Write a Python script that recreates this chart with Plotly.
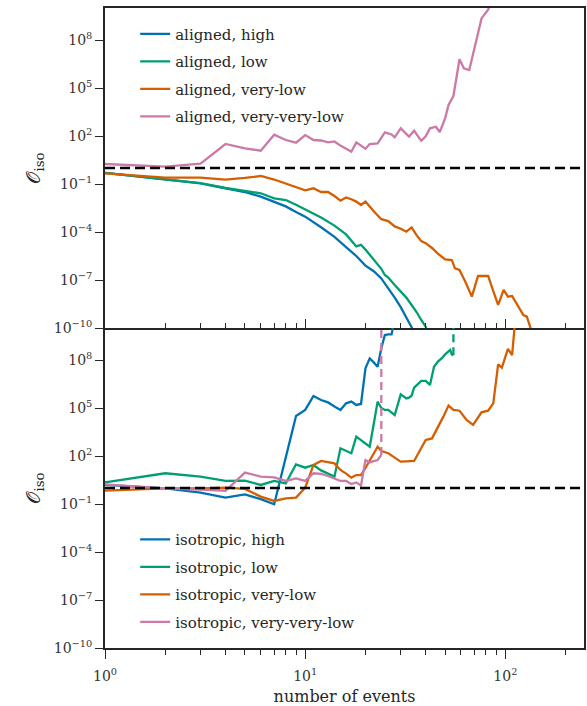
import plotly.graph_objects as go
from plotly.subplots import make_subplots

# ---------------- data (values read as log10 of O_iso) ----------------
al_high_n = [1, 2, 3, 4, 5, 6, 7, 8, 9, 10, 12, 14, 16, 18, 20, 22, 24, 26, 28, 30, 32, 34, 35]
al_high_log = [-0.3, -0.71, -0.96, -1.27, -1.5, -1.79, -2.1, -2.4, -2.75, -3.04, -3.7, -4.3,
               -4.95, -5.5, -6.1, -6.45, -6.9, -7.5, -8.1, -8.7, -9.3, -9.95, -10.3]

al_low_n = [1, 2, 3, 4, 5, 6, 7, 8, 9, 10, 12, 14, 16, 18, 19, 20, 22, 24, 25, 26, 28, 30,
            32, 34, 36, 38, 40, 41]
al_low_log = [-0.3, -0.71, -0.95, -1.25, -1.45, -1.58, -1.9, -2.0, -2.3, -2.58, -3.1, -3.6,
              -4.15, -4.9, -4.8, -5.1, -5.7, -6.3, -6.69, -6.85, -7.31, -7.7, -8.1, -8.56,
              -9.0, -9.5, -9.92, -10.3]

al_vlow_n = [1, 2, 3, 4, 5, 6, 7, 8, 9, 10, 11, 12, 13, 14, 15, 16, 17, 18, 19, 20, 22, 24,
             26, 28, 30, 32, 34, 36, 38, 40, 43, 46, 50, 54, 56, 59, 63, 68, 73, 82, 87, 92,
             98, 103, 108, 115, 123, 128, 134, 136]
al_vlow_log = [-0.33, -0.6, -0.6, -0.73, -0.62, -0.5, -0.72, -0.96, -1.2, -1.4, -1.27, -1.5,
               -1.5, -1.75, -2.04, -1.84, -1.95, -2.1, -2.31, -2.1, -2.7, -3.2, -3.32, -3.65,
               -3.8, -3.98, -3.71, -4.2, -4.57, -4.7, -5.0, -5.35, -5.71, -5.75, -6.27, -6.37,
               -7.1, -8.04, -6.75, -6.75, -7.7, -8.56, -7.62, -8.04, -8.0, -8.6, -9.19, -9.29,
               -10.0, -10.3]

al_vvlow_n = [1, 2, 3, 4, 5, 6, 7, 8, 9, 10, 11, 12, 13, 14, 15, 16, 17, 18, 19, 20, 21, 22,
              23, 25, 27, 28, 30, 33, 35, 38, 40, 42, 45, 47, 50, 52, 55, 59, 62, 66, 73, 76,
              82, 85]
al_vvlow_log = [0.25, 0.08, 0.27, 1.5, 1.23, 1.08, 2.08, 1.75, 1.58, 2.06, 1.75, 1.72, 1.6,
                1.66, 1.4, 1.22, 1.02, 1.6, 1.4, 1.2, 1.5, 1.52, 1.54, 2.23, 2.1, 1.92, 2.48,
                1.96, 2.33, 1.7, 1.98, 2.48, 2.58, 2.25, 3.1, 3.94, 4.5, 6.8, 6.23, 6.12, 8.42,
                9.35, 9.9, 10.4]

iso_high_n = [1, 2, 3, 4, 5, 6, 7, 9, 10, 11, 12, 13, 14, 15, 16, 17, 18, 19, 20, 21, 22,
              23, 24, 25, 26, 27, 28]
iso_high_log = [0.19, -0.02, -0.29, -0.6, -0.4, -0.7, -1.02, 4.5, 4.88, 5.75, 5.5, 5.35, 5.1,
                4.88, 5.29, 5.4, 5.19, 5.25, 7.48, 8.1, 7.85, 7.58, 8.73, 9.56, 9.6, 9.6, 10.6]

iso_low_n = [1, 2, 3, 4, 5, 6, 7, 8, 9, 10, 11, 12, 13, 14, 15, 16, 17, 18, 19, 20, 21, 22,
             23, 24, 25, 26, 28, 30, 32, 33, 34, 35, 38, 40, 42, 44, 46, 48, 50, 53, 54, 55]
iso_low_log = [0.35, 0.92, 0.71, 0.44, 0.46, 0.19, 0.44, 0.29, 1.48, 1.27, 1.44, 1.1, 0.9,
               0.71, 2.48, 2.3, 2.17, 3.21, 3.0, 2.8, 2.58, 4.0, 5.4, 5.0, 4.88, 4.88, 4.56,
               5.85, 5.6, 5.65, 5.77, 6.27, 6.69, 6.69, 6.44, 7.58, 7.9, 8.1, 8.35, 8.63,
               8.35, 8.3]

iso_vlow_n = [1, 2, 3, 4, 5, 6, 7, 8, 9, 10, 11, 12, 14, 15, 16, 17, 18, 19, 20, 21, 22, 23,
              24, 26, 28, 30, 32, 35, 38, 40, 43, 46, 49, 52, 55, 59, 64, 69, 76, 82, 87, 92,
              96, 103, 108, 112]
iso_vlow_log = [-0.17, -0.02, -0.02, 0.02, -0.06, -0.54, -0.81, -0.65, -0.6, 0.02, 1.44,
                1.69, 1.54, 1.13, 0.9, 0.65, 0.81, 0.81, 1.25, 1.7, 2.15, 2.58, 2.31, 2.17,
                1.9, 1.65, 1.67, 1.69, 2.5, 3.0, 3.1, 3.79, 4.46, 5.15, 4.88, 4.83, 4.25, 3.94,
                4.73, 4.83, 5.29, 7.73, 7.52, 8.69, 8.31, 10.5]

iso_vvlow_n = [1, 2, 3, 4, 5, 6, 7, 8, 9, 10, 11, 12, 13, 14, 15, 16, 17, 18, 19, 20, 21,
               22, 23, 24]
iso_vvlow_log = [0.23, -0.02, -0.1, -0.17, 0.96, 0.71, 0.67, 0.44, 0.6, 0.44, 0.92, 0.88,
                 0.75, 0.6, 0.44, 0.44, 0.25, 0.35, 0.15, 1.75, 1.6, 1.68, 1.75, 2.06]

# dashed continuations (divergence) in the isotropic panel
iso_low_cont_n = [55, 55]
iso_low_cont_log = [8.3, 11]
iso_vvlow_cont_n = [24, 24]
iso_vvlow_cont_log = [2.06, 11]

labels_top = ["aligned, high", "aligned, low", "aligned, very-low", "aligned, very-very-low"]
labels_bot = ["isotropic, high", "isotropic, low", "isotropic, very-low",
              "isotropic, very-very-low"]
colors = ["#0072B2", "#009E73", "#D55E00", "#CC79A7"]

ytick_exp = [-10, -7, -4, -1, 2, 5, 8]
xtick_exp = [0, 1, 2]
x_minor = [2, 3, 4, 5, 6, 7, 8, 9, 20, 30, 40, 50, 60, 70, 80, 90, 200]
x_max = 247

# ---------------- figure ----------------
def vals(logs):
    return [10 ** v for v in logs]

fig = make_subplots(rows=2, cols=1, shared_xaxes=True, vertical_spacing=0)

top = [(al_high_n, al_high_log), (al_low_n, al_low_log), (al_vlow_n, al_vlow_log),
       (al_vvlow_n, al_vvlow_log)]
bot = [(iso_high_n, iso_high_log), (iso_low_n, iso_low_log), (iso_vlow_n, iso_vlow_log),
       (iso_vvlow_n, iso_vvlow_log)]

LW = 2.3
for i, (n, lg) in enumerate(top):
    fig.add_trace(go.Scatter(x=n, y=vals(lg), mode="lines", name=labels_top[i],
                             line=dict(color=colors[i], width=LW), legend="legend",
                             legendgroup="t%d" % i), row=1, col=1)
for i, (n, lg) in enumerate(bot):
    fig.add_trace(go.Scatter(x=n, y=vals(lg), mode="lines", name=labels_bot[i],
                             line=dict(color=colors[i], width=LW), legend="legend2",
                             legendgroup="b%d" % i), row=2, col=1)

fig.add_trace(go.Scatter(x=iso_low_cont_n, y=vals(iso_low_cont_log), mode="lines",
                         line=dict(color=colors[1], width=LW, dash="8px,5px"),
                         showlegend=False, legendgroup="b1"), row=2, col=1)
fig.add_trace(go.Scatter(x=iso_vvlow_cont_n, y=vals(iso_vvlow_cont_log), mode="lines",
                         line=dict(color=colors[3], width=LW, dash="8px,5px"),
                         showlegend=False, legendgroup="b3"), row=2, col=1)

for r in (1, 2):
    fig.add_hline(y=1, line=dict(color="black", width=2.5, dash="10px,5px"), row=r, col=1)

AX = "#262626"
FONT = "DejaVu Serif"
ytext = ["10<sup>\u2212%d</sup>" % (-e) if e < 0 else "10<sup>%d</sup>" % e for e in ytick_exp]
yaxis_common = dict(type="log", range=[-10, 10], tickvals=[10 ** e for e in ytick_exp],
                    ticktext=ytext, ticks="outside", ticklen=8, tickwidth=1.3, tickcolor=AX,
                    showline=True, mirror=True, linecolor=AX, linewidth=1.8,
                    showgrid=False, zeroline=False, tickfont=dict(size=14, color="#333333"),
                    title=dict(text="\U0001D4AA<sub>iso</sub>", font=dict(size=19),
                               standoff=8))
fig.update_yaxes(**yaxis_common)

xcommon = dict(type="log", range=[0, 2.3927], tickvals=[10 ** e for e in xtick_exp],
               ticktext=["10<sup>%d</sup>" % e for e in xtick_exp],
               ticklen=9, tickwidth=1.3, tickcolor=AX, showline=True,
               linecolor=AX, linewidth=1.8, showgrid=False, zeroline=False,
               tickfont=dict(size=14, color="#333333"))
fig.update_xaxes(**xcommon)
fig.update_xaxes(ticks="inside", showticklabels=False, mirror=True,
                 minor=dict(tickvals=x_minor, ticks="inside", ticklen=5, tickwidth=1.1,
                            tickcolor=AX, showgrid=False), row=1, col=1)
fig.update_xaxes(ticks="outside", showticklabels=True, mirror=False, ticklabelstandoff=5,
                 minor=dict(tickvals=x_minor, ticks="outside", ticklen=5, tickwidth=1.1,
                            tickcolor=AX, showgrid=False),
                 title=dict(text="number of events", font=dict(size=16), standoff=8),
                 row=2, col=1)

legend_common = dict(font=dict(size=15, color="#262626"), bgcolor="rgba(0,0,0,0)",
                     borderwidth=0, tracegroupgap=5, xanchor="left", yanchor="top")
fig.update_layout(
    width=587, height=706,
    margin=dict(l=105, r=1, t=8, b=58),
    paper_bgcolor="white", plot_bgcolor="white",
    font=dict(family=FONT, color="#262626"),
    legend=dict(x=0.063, y=0.985, **legend_common),
    legend2=dict(x=0.063, y=0.195, **legend_common),
)

fig.write_html("out.html")
